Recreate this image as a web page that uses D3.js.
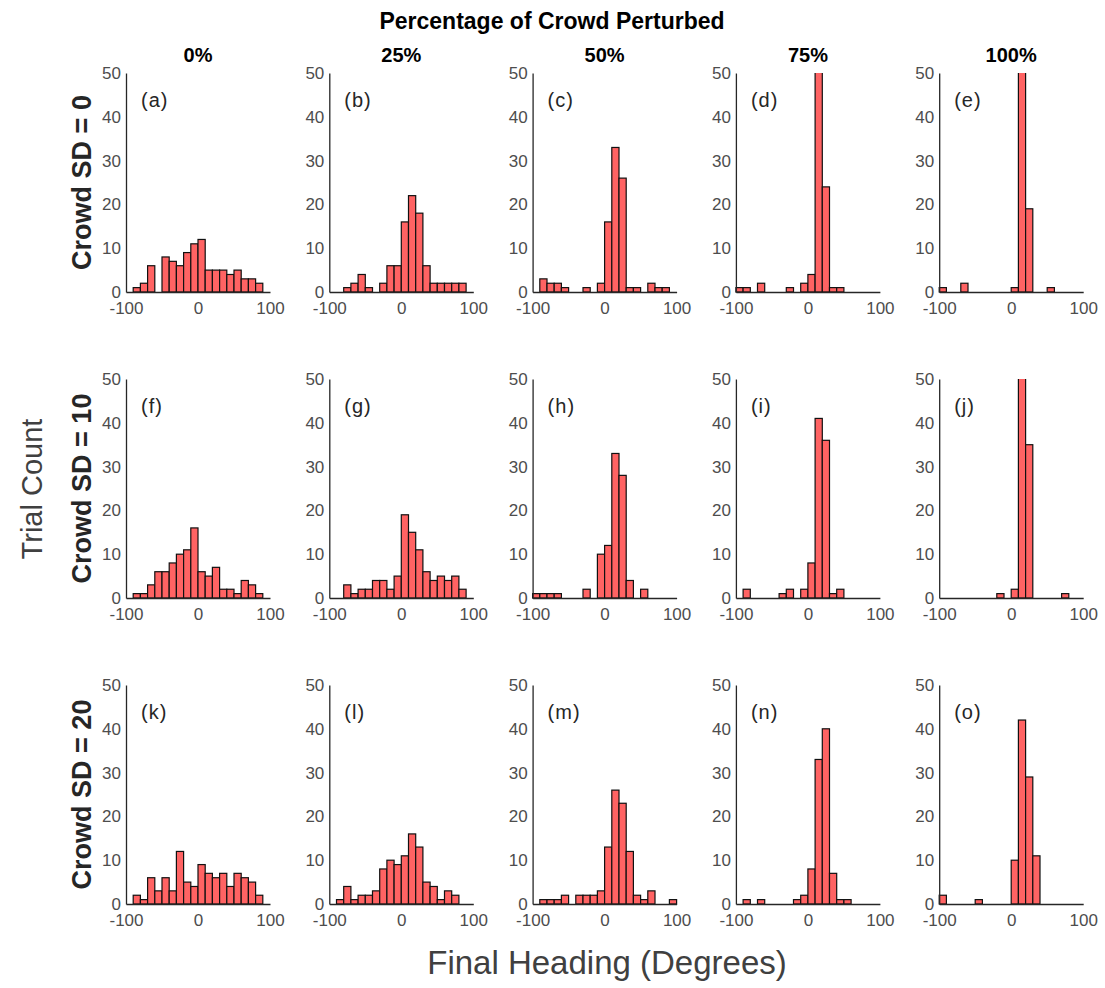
<!DOCTYPE html>
<html>
<head>
<meta charset="utf-8">
<script src="https://cdn.jsdelivr.net/npm/d3@7"></script>
<style>
  body { margin: 0; background: #fff; }
  svg { display: block; font-family: "Liberation Sans", Arial, sans-serif; }
  .tick text { fill: #4d4d4d; font-size: 17px; }
  .domain { stroke: #262626; stroke-width: 1.3px; }
</style>
</head>
<body>
<div id="chart"></div>
<script>
// bin left edges (degrees), every bin is 10 wide
var binStarts = [-100, -90, -80, -70, -60, -50, -40, -30, -20, -10, 0, 10, 20, 30, 40, 50, 60, 70, 80, 90];
var binWidth = 10;

var columnTitles = ["0%", "25%", "50%", "75%", "100%"];
var rowTitles = ["Crowd SD = 0", "Crowd SD = 10", "Crowd SD = 20"];
var panelLabels = ["(a)", "(b)", "(c)", "(d)", "(e)", "(f)", "(g)", "(h)", "(i)", "(j)", "(k)", "(l)", "(m)", "(n)", "(o)"];
var xTicks = [-100, 0, 100];
var yTicks = [0, 10, 20, 30, 40, 50];

// trial counts per bin, one array per panel
var countsA = [0, 1, 2, 6, 0, 8, 7, 6, 9, 11, 12, 5, 5, 5, 4, 5, 3, 3, 2, 0];
var countsB = [0, 0, 1, 2, 4, 1, 0, 2, 6, 6, 16, 22, 18, 6, 2, 2, 2, 2, 2, 0];
var countsC = [0, 3, 2, 2, 1, 0, 0, 1, 0, 2, 16, 33, 26, 1, 1, 0, 2, 1, 1, 0];
var countsD = [1, 1, 0, 2, 0, 0, 0, 1, 0, 2, 4, 58, 24, 1, 1, 0, 0, 0, 0, 0];
var countsE = [1, 0, 0, 2, 0, 0, 0, 0, 0, 0, 1, 71, 19, 0, 0, 1, 0, 0, 0, 0];
var countsF = [0, 1, 1, 3, 6, 6, 8, 10, 11, 16, 6, 5, 7, 2, 2, 1, 4, 3, 1, 0];
var countsG = [0, 0, 3, 1, 2, 2, 4, 4, 2, 5, 19, 15, 11, 6, 4, 5, 4, 5, 2, 0];
var countsH = [1, 1, 1, 1, 0, 0, 0, 2, 0, 10, 12, 33, 28, 4, 0, 2, 0, 0, 0, 0];
var countsI = [0, 2, 0, 0, 0, 0, 1, 2, 0, 2, 8, 41, 36, 1, 2, 0, 0, 0, 0, 0];
var countsJ = [0, 0, 0, 0, 0, 0, 0, 0, 1, 0, 2, 56, 35, 0, 0, 0, 0, 1, 0, 0];
var countsK = [0, 2, 1, 6, 3, 6, 3, 12, 5, 4, 9, 7, 6, 7, 4, 7, 6, 5, 2, 0];
var countsL = [0, 1, 4, 1, 2, 2, 3, 8, 10, 9, 11, 16, 13, 5, 4, 1, 3, 2, 0, 0];
var countsM = [0, 1, 1, 1, 2, 0, 2, 2, 2, 3, 13, 26, 23, 12, 2, 1, 3, 0, 0, 1];
var countsN = [0, 1, 0, 1, 0, 0, 0, 0, 1, 2, 8, 33, 40, 7, 1, 1, 0, 0, 0, 0];
var countsO = [2, 0, 0, 0, 0, 1, 0, 0, 0, 0, 10, 42, 29, 11, 0, 0, 0, 0, 0, 0];

var panels = [countsA, countsB, countsC, countsD, countsE,
              countsF, countsG, countsH, countsI, countsJ,
              countsK, countsL, countsM, countsN, countsO];

var W = 1105, H = 988;
var left0 = 126, top0 = 73,
    colStep = 203.3, rowStep = 306,
    width = 144, height = 219;

var svg = d3.select("#chart").append("svg")
    .attr("width", W)
    .attr("height", H);

var x = d3.scaleLinear().domain([-100, 100]).range([0, width]);
var y = d3.scaleLinear().domain([0, 50]).range([height, 0]);
var plain = function(d) { return String(d); };  // keep ascii hyphen like the original

svg.append("defs").append("clipPath")
    .attr("id", "plot-clip")
  .append("rect")
    .attr("x", -2)
    .attr("y", 0)
    .attr("width", width + 4)
    .attr("height", height + 2);

panels.forEach(function(counts, p) {
  var row = Math.floor(p / 5), col = p % 5;
  var g = svg.append("g")
      .attr("transform", "translate(" + (left0 + col * colStep) + "," + (top0 + row * rowStep) + ")");

  var bins = binStarts.map(function(b, i) { return {x0: b, x1: b + binWidth, n: counts[i]}; })
      .filter(function(d) { return d.n > 0; });

  g.append("g")
      .attr("clip-path", "url(#plot-clip)")
    .selectAll("rect")
    .data(bins)
    .enter().append("rect")
      .attr("x", function(d) { return x(d.x0); })
      .attr("y", function(d) { return y(d.n); })
      .attr("width", function(d) { return x(d.x1) - x(d.x0); })
      .attr("height", function(d) { return y(0) - y(d.n); })
      .attr("fill", "#ff6363")
      .attr("stroke", "#111")
      .attr("stroke-width", 1.2);

  g.append("g")
      .attr("transform", "translate(0," + height + ")")
      .call(d3.axisBottom(x).tickValues(xTicks).tickFormat(plain)
        .tickSize(0).tickSizeOuter(0).tickPadding(10));

  g.append("g")
      .call(d3.axisLeft(y).tickValues(yTicks).tickFormat(plain)
        .tickSize(0).tickSizeOuter(0).tickPadding(5));

  g.append("text")
      .attr("x", 15)
      .attr("y", 34)
      .attr("fill", "#262626")
      .style("font-size", "20px")
      .style("letter-spacing", "1px")
      .text(panelLabels[p]);

  if (row === 0) {
    g.append("text")
        .attr("x", width / 2)
        .attr("y", -11)
        .attr("text-anchor", "middle")
        .attr("fill", "#000")
        .style("font-size", "20px")
        .style("font-weight", "bold")
        .text(columnTitles[col]);
  }
  if (col === 0) {
    g.append("text")
        .attr("transform", "translate(-35," + (height / 2) + ") rotate(-90)")
        .attr("text-anchor", "middle")
        .attr("fill", "#262626")
        .style("font-size", "27px")
        .style("font-weight", "bold")
        .text(rowTitles[row]);
  }
});

svg.append("text")
    .attr("x", 552)
    .attr("y", 29)
    .attr("text-anchor", "middle")
    .style("font-size", "23px")
    .style("font-weight", "bold")
    .text("Percentage of Crowd Perturbed");

svg.append("text")
    .attr("transform", "translate(42,489) rotate(-90)")
    .attr("text-anchor", "middle")
    .attr("fill", "#404040")
    .style("font-size", "29px")
    .text("Trial Count");

svg.append("text")
    .attr("x", 607)
    .attr("y", 974)
    .attr("text-anchor", "middle")
    .attr("fill", "#404040")
    .style("font-size", "33px")
    .text("Final Heading (Degrees)");
</script>
</body>
</html>
